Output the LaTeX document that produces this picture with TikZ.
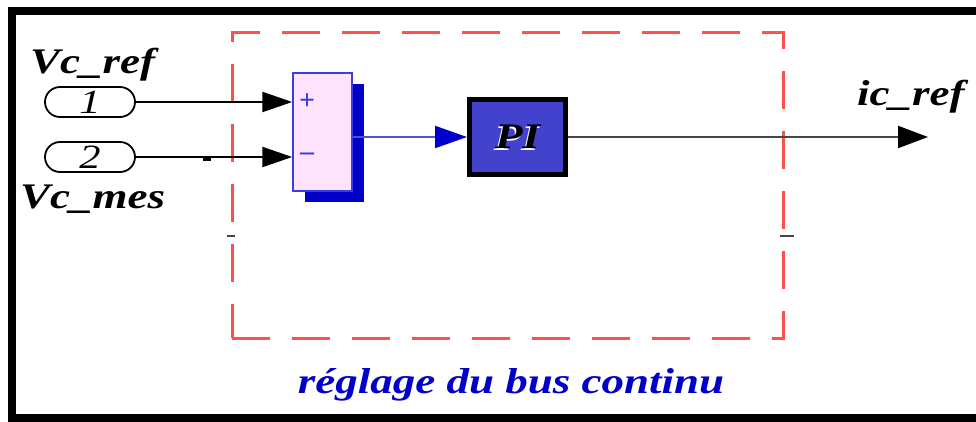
\documentclass[tikz,border=0pt]{standalone}
\usepackage{fontspec}
\usepackage{graphicx}
\setmainfont{Liberation Serif}
\usetikzlibrary{arrows.meta,shadows}
\definecolor{redbox}{RGB}{255,80,80}
\definecolor{pinkfill}{RGB}{255,226,252}
\definecolor{sumborder}{RGB}{60,60,230}
\definecolor{shadowblue}{RGB}{0,0,200}
\definecolor{pifill}{RGB}{66,66,204}
\definecolor{sigblue}{RGB}{80,80,230}
\definecolor{headblue}{RGB}{0,0,204}
\definecolor{outgray}{RGB}{70,70,70}
\definecolor{txtblue}{RGB}{0,0,200}
\newcommand\widetxt[1]{\scalebox{1.25}[1]{#1}}
\tikzset{
  lbl/.style={font=\fontsize{36}{40}\selectfont\bfseries\itshape, inner sep=0pt},
  port/.style={draw, line width=1.8pt, rounded corners=15pt, minimum width=90pt, minimum height=30pt, inner sep=0pt, font=\fontsize{34}{36}\selectfont\itshape},
  sig/.style={line width=2.2pt, -{Triangle[length=30pt,width=20pt]}},
  subsys/.style={draw=redbox, line width=3pt, dash pattern=on 38pt off 22pt, minimum width=551pt, minimum height=306pt, inner sep=0pt},
  sign/.style={text=sumborder, font=\fontsize{28}{28}\selectfont\bfseries, inner sep=0pt},
}
\begin{document}
\begin{tikzpicture}[x=1pt,y=-1pt]
\useasboundingbox (0,0) rectangle (976,421);
\clip (0,0) rectangle (976,421);
% frame
\draw[line width=8pt] (990,11) -- (12,11) -- (12,418) -- (990,418);
% subsystem box
\node[subsys] (sub) at (507.5,185) {};
% ports
\node[port] (in1) at (90,102) {\widetxt{1}};
\node[port] (in2) at (90,157) {\widetxt{2}};
% sum block
\node[draw=sumborder, line width=1.5pt, fill=pinkfill, minimum width=59pt, minimum height=118pt, inner sep=0pt,
      drop shadow={shadow xshift=12pt, shadow yshift=-11pt, fill=shadowblue, opacity=1}] (sum) at (322.5,132) {};
\node[sign] (plus) at (307,102) {+};
\node[sign] (minus) at (307,157) {--};
% PI block
\node[draw=black, line width=5pt, fill=pifill, minimum width=96pt, minimum height=75pt, inner sep=0pt] (pi) at (517.5,137) {};
\node[lbl, text=white] (piw) at ([xshift=-1.5pt,yshift=-1.5pt]pi.center) {\widetxt{PI}};
\node[lbl, text=black] (pit) at (pi.center) {\widetxt{PI}};
% output coordinate
\coordinate (out) at (928,137);
% connectors
\draw[sig] (in1.east) -- (in1 -| sum.west);
\draw[sig] (in2.east) -- (in2 -| sum.west);
\draw[sig, color=sigblue, -{Triangle[length=32pt,width=22pt,color=headblue]}] (sum.east |- pi.west) -- (pi.west);
\draw[sig, color=outgray, -{Triangle[length=30pt,width=22pt,color=black]}] (pi.east) -- (out);
% small marks
\draw[line width=3pt] (203,159) -- (211,159);
\draw[line width=2pt, outgray] ([xshift=-4pt]sub.west |- 0,236) -- ++(8,0);
\draw[line width=2pt, outgray] ([xshift=-5pt]sub.east |- 0,236) -- ++(14,0);
% labels
\node[lbl, anchor=base west] (vcref) at (30,73) {\widetxt{Vc\_ref}};
\node[lbl, anchor=base west] (vcmes) at (20,208) {\widetxt{Vc\_mes}};
\node[lbl, anchor=base west] (icref) at (857,105) {\widetxt{ic\_ref}};
\node[lbl, anchor=base, text=txtblue] (title) at (511,393) {\widetxt{réglage du bus continu}};
\end{tikzpicture}
\end{document}
